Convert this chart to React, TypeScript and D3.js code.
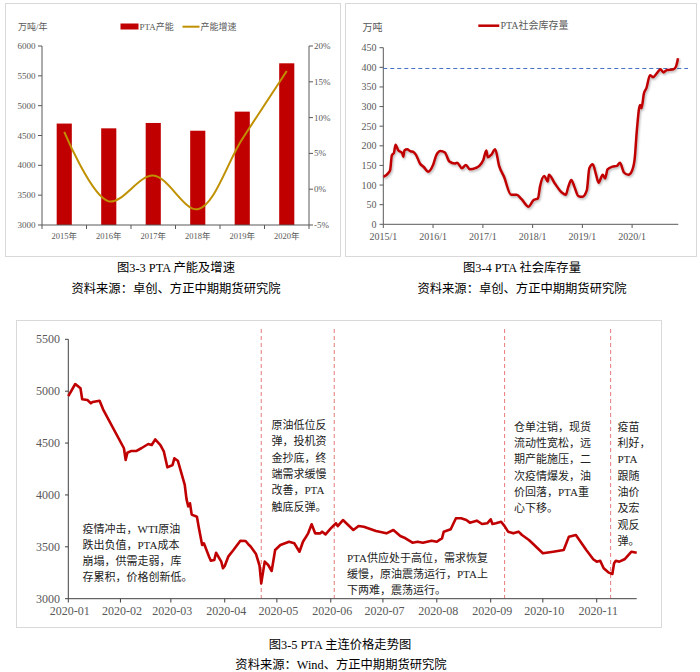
import React from 'react';
import * as d3 from 'd3';

// ---------- Chart 3-3: PTA capacity & growth ----------
const capYears = ['2015年', '2016年', '2017年', '2018年', '2019年', '2020年'];
const capacity = [4700, 4620, 4710, 4580, 4900, 5710];
const capGrowth = [8.0, -1.7, 1.9, -2.8, 7.0, 16.5];
const capLeftTicks = [3000, 3500, 4000, 4500, 5000, 5500, 6000];
const capRightTicks = [-5, 0, 5, 10, 15, 20];

// ---------- Chart 3-4: PTA social inventory ----------
const invDates = ['2015-01-02','2015-02-10','2015-02-20','2015-03-05','2015-03-20','2015-04-01','2015-04-20','2015-05-20','2015-05-28','2015-06-05','2015-06-25','2015-07-20','2015-08-07','2015-08-29','2015-09-27','2015-10-25','2015-11-26','2016-01-01','2016-01-26','2016-02-24','2016-03-28','2016-04-30','2016-06-09','2016-06-25','2016-07-31','2016-08-29','2016-09-27','2016-11-06','2016-12-05','2017-01-04','2017-01-26','2017-02-06','2017-03-03','2017-04-01','2017-04-30','2017-06-05','2017-07-27','2017-09-05','2017-10-12','2017-12-02','2018-01-08','2018-02-09','2018-02-24','2018-03-28','2018-04-22','2018-04-30','2018-06-13','2018-08-03','2018-09-01','2018-09-20','2018-10-12','2018-11-03','2018-12-02','2019-01-01','2019-02-03','2019-02-21','2019-03-18','2019-04-09','2019-04-30','2019-05-30','2019-06-17','2019-07-05','2019-08-10','2019-09-12','2019-10-04','2019-11-02','2019-12-05','2019-12-28','2020-01-19','2020-02-05','2020-02-28','2020-03-10','2020-03-28','2020-04-15','2020-05-11','2020-06-02','2020-07-01','2020-07-27','2020-08-18','2020-09-12','2020-10-31','2020-11-18','2020-12-03'];
const invValues = [121,132,138,176,182,203,189,181,172,188,191,186,185,177,155,146,134,151,177,187,183,160,155,157,143,151,140,143,149,164,188,171,177,191,149,121,75,75,64,45,62,66,96,123,109,126,104,81,75,96,113,96,72,70,87,143,153,130,106,126,117,140,147,149,157,132,126,134,164,240,304,296,334,347,380,375,385,395,387,393,395,402,423];
const invYearTicks = ['2015-01-01','2016-01-01','2017-01-01','2018-01-01','2019-01-01','2020-01-01'];
const invValueTicks = [0, 50, 100, 150, 200, 250, 300, 350, 400, 450];
const invWarning = 397;

// ---------- Chart 3-5: PTA main contract price ----------
const priceDates = ['2020-01-02','2020-01-06','2020-01-09','2020-01-10','2020-01-13','2020-01-15','2020-01-16','2020-01-20','2020-01-22','2020-02-03','2020-02-04','2020-02-05','2020-02-07','2020-02-10','2020-02-13','2020-02-17','2020-02-19','2020-02-21','2020-02-24','2020-02-26','2020-02-28','2020-03-02','2020-03-03','2020-03-05','2020-03-09','2020-03-10','2020-03-11','2020-03-12','2020-03-13','2020-03-16','2020-03-17','2020-03-19','2020-03-20','2020-03-23','2020-03-24','2020-03-26','2020-03-27','2020-03-30','2020-03-31','2020-04-01','2020-04-03','2020-04-06','2020-04-10','2020-04-13','2020-04-15','2020-04-16','2020-04-19','2020-04-21','2020-04-22','2020-04-24','2020-04-26','2020-04-28','2020-04-30','2020-05-03','2020-05-08','2020-05-11','2020-05-14','2020-05-16','2020-05-19','2020-05-21','2020-05-23','2020-05-26','2020-05-27','2020-05-29','2020-06-01','2020-06-04','2020-06-05','2020-06-08','2020-06-11','2020-06-14','2020-06-17','2020-06-20','2020-06-27','2020-07-03','2020-07-07','2020-07-11','2020-07-14','2020-07-18','2020-07-21','2020-07-24','2020-07-29','2020-08-01','2020-08-03','2020-08-04','2020-08-05','2020-08-09','2020-08-12','2020-08-15','2020-08-18','2020-08-20','2020-08-24','2020-08-27','2020-08-30','2020-09-01','2020-09-02','2020-09-04','2020-09-07','2020-09-09','2020-09-11','2020-09-14','2020-09-17','2020-09-19','2020-09-23','2020-09-25','2020-10-01','2020-10-07','2020-10-13','2020-10-16','2020-10-20','2020-10-22','2020-10-26','2020-10-30','2020-11-01','2020-11-03','2020-11-05','2020-11-08','2020-11-10','2020-11-11','2020-11-12','2020-11-14','2020-11-17','2020-11-21','2020-11-24'];
const priceValues = [4953,5069,5028,4922,4915,4883,4896,4908,4825,4450,4337,4407,4423,4423,4450,4491,4481,4536,4481,4417,4266,4289,4353,4330,4096,3960,3890,3920,3810,3790,3694,3518,3534,3405,3366,3373,3443,3357,3293,3315,3405,3469,3559,3556,3517,3501,3430,3320,3148,3357,3325,3267,3469,3517,3549,3534,3453,3549,3630,3717,3630,3630,3646,3620,3678,3727,3700,3758,3710,3662,3700,3694,3652,3630,3662,3604,3582,3540,3549,3540,3559,3549,3572,3582,3646,3669,3775,3775,3758,3733,3752,3720,3727,3765,3720,3727,3742,3700,3646,3630,3646,3614,3566,3534,3438,3453,3469,3598,3614,3566,3469,3380,3357,3366,3293,3251,3238,3341,3366,3357,3380,3453,3443];
const priceMonthTicks = ['2020-01-02','2020-02-01','2020-03-01','2020-04-01','2020-05-01','2020-06-01','2020-07-01','2020-08-01','2020-09-01','2020-10-01','2020-11-01'];
const priceValueTicks = [3000, 3500, 4000, 4500, 5000, 5500];
const eventDates = ['2020-04-22', '2020-06-03', '2020-09-09', '2020-11-09'];
const annotationTexts = [
  ['疫情冲击，WTI原油', '跌出负值，PTA成本', '崩塌，供需走弱，库', '存累积，价格创新低。'],
  ['原油低位反', '弹，投机资', '金抄底，终', '端需求缓慢', '改善，PTA', '触底反弹。'],
  ['PTA供应处于高位，需求恢复', '缓慢，原油震荡运行，PTA上', '下两难，震荡运行。'],
  ['仓单注销，现货', '流动性宽松，远', '期产能施压，二', '次疫情爆发，油', '价回落，PTA重', '心下移。'],
  ['疫苗', '利好，', 'PTA', '跟随', '油价', '及宏', '观反', '弹。'],
];

// layout (pixels) for annotation blocks: [left x, first line center y]
const annotationLayout = [[82.5, 528.5], [271.5, 425], [347, 557.5], [514, 426.7], [617.5, 426.7]];

const parse = d3.timeParse('%Y-%m-%d');
const SERIF = "'Liberation Serif', 'Times New Roman', serif";
const MIXED = "'Liberation Serif', 'Noto Sans CJK SC', serif";
const AXIS = '#595959';
const RED = '#C00000';

export default function App() {
  // ----- chart 3-3 -----
  const capX = d3.scaleBand<string>().domain(capYears).range([42, 309]).paddingInner(0.66).paddingOuter(0.33);
  const capY = d3.scaleLinear().domain([3000, 6000]).range([225, 46]);
  const capYR = d3.scaleLinear().domain([-5, 20]).range([225, 46]);
  const capStep = capX.step();
  const cx = (i: number) => (capX(capYears[i]) as number) + capX.bandwidth() / 2;
  const growthPath = d3.line<number>().x((_, i) => cx(i)).y((d) => capYR(d)).curve(d3.curveCatmullRom.alpha(0.5))(capGrowth) || '';

  // ----- chart 3-4 -----
  const invParsed = invDates.map((d) => parse(d) as Date);
  const invX = d3.scaleTime().domain([parse('2015-01-01') as Date, parse('2020-12-05') as Date]).range([383.3, 678.3]);
  const invY = d3.scaleLinear().domain([0, 450]).range([224.3, 47.7]);
  const invPath = d3.line<number>().x((_, i) => invX(invParsed[i])).y((d) => invY(d)).curve(d3.curveMonotoneX)(invValues) || '';
  const fmtInv = d3.timeFormat('%Y/%-m');

  // ----- chart 3-5 -----
  const priceParsed = priceDates.map((d) => parse(d) as Date);
  const pX = d3.scaleTime().domain([parse('2020-01-02') as Date, parse('2020-11-24') as Date]).range([68.3, 636.7]);
  const pY = d3.scaleLinear().domain([3000, 5500]).range([598.7, 339.3]);
  const pricePath = d3.line<number>().x((_, i) => pX(priceParsed[i])).y((d) => pY(d))(priceValues) || '';
  const fmtP = d3.timeFormat('%Y-%m');

  return (
    <div style={{ position: 'absolute', left: 0, top: 0, width: 700, height: 672, background: '#fff' }}>
      <svg width={700} height={672} viewBox="0 0 700 672" style={{ display: 'block' }}>
        <defs>
          <filter id="shadow" x="-5%" y="-5%" width="110%" height="120%">
            <feDropShadow dx="1" dy="1.5" stdDeviation="0.8" floodColor="#000" floodOpacity="0.3" />
          </filter>
        </defs>
        <rect width={700} height={672} fill="#fff" />

        {/* ========== Chart 3-3 ========== */}
        <rect x={5.5} y={3.5} width={335} height={253} fill="none" stroke="#D9D9D9" strokeWidth={1} />
        <text x={18} y={27} fontFamily={MIXED} fontSize={9} fill={AXIS} dominantBaseline="central">万吨/年</text>
        <rect x={120.5} y={23.5} width={18} height={6} fill={RED} />
        <text x={139.5} y={26.7} fontFamily={MIXED} fontSize={9} fill={AXIS} dominantBaseline="central">PTA产能</text>
        <line x1={182.5} x2={199.5} y1={26.7} y2={26.7} stroke="#C09000" strokeWidth={2} />
        <text x={200.5} y={26.7} fontFamily={MIXED} fontSize={9} fill={AXIS} dominantBaseline="central">产能增速</text>

        {capacity.map((v, i) => (
          <rect key={i} x={capX(capYears[i])} y={capY(v)} width={capX.bandwidth()} height={capY(3000) - capY(v)} fill={RED} />
        ))}
        <path d={growthPath} fill="none" stroke="#C09000" strokeWidth={2} />

        {/* left axis */}
        <line x1={42} x2={42} y1={46} y2={225} stroke={AXIS} strokeWidth={1} />
        {capLeftTicks.map((t) => (
          <g key={t}>
            <line x1={38} x2={42} y1={capY(t)} y2={capY(t)} stroke={AXIS} />
            <text x={35.5} y={capY(t)} textAnchor="end" dominantBaseline="central" fontFamily={SERIF} fontSize={9} fill={AXIS}>{t}</text>
          </g>
        ))}
        {/* right axis */}
        <line x1={309} x2={309} y1={46} y2={225} stroke={AXIS} strokeWidth={1} />
        {capRightTicks.map((t) => (
          <g key={t}>
            <line x1={309} x2={313} y1={capYR(t)} y2={capYR(t)} stroke={AXIS} />
            <text x={314} y={capYR(t)} dominantBaseline="central" fontFamily={SERIF} fontSize={9} fill={AXIS}>{`${t}%`}</text>
          </g>
        ))}
        {/* x axis */}
        <line x1={42} x2={309} y1={225} y2={225} stroke={AXIS} strokeWidth={1} />
        {d3.range(capYears.length + 1).map((i) => (
          <line key={i} x1={42 + i * capStep} x2={42 + i * capStep} y1={225} y2={229} stroke={AXIS} />
        ))}
        {capYears.map((y, i) => (
          <text key={y} x={cx(i)} y={236} textAnchor="middle" dominantBaseline="central" fontFamily={MIXED} fontSize={8.5} fill={AXIS}>{y}</text>
        ))}

        {/* ========== Chart 3-4 ========== */}
        <rect x={345.5} y={3.5} width={351} height={253} fill="none" stroke="#D9D9D9" strokeWidth={1} />
        <text x={362.5} y={27} fontFamily={MIXED} fontSize={10} fill={AXIS} dominantBaseline="central">万吨</text>
        <line x1={478.3} x2={499.3} y1={25.7} y2={25.7} stroke={RED} strokeWidth={2.5} />
        <text x={500.5} y={25.7} fontFamily={MIXED} fontSize={10} fill={AXIS} dominantBaseline="central">PTA社会库存量</text>

        <line x1={383.3} x2={383.3} y1={47.7} y2={224.3} stroke={AXIS} />
        {invValueTicks.map((t) => (
          <g key={t}>
            <line x1={379.5} x2={383.3} y1={invY(t)} y2={invY(t)} stroke={AXIS} />
            <text x={376.5} y={invY(t)} textAnchor="end" dominantBaseline="central" fontFamily={SERIF} fontSize={10} fill={AXIS}>{t}</text>
          </g>
        ))}
        <line x1={383.3} x2={678.3} y1={224.3} y2={224.3} stroke={AXIS} />
        {invYearTicks.map((d) => {
          const dt = parse(d) as Date;
          return (
            <g key={d}>
              <line x1={invX(dt)} x2={invX(dt)} y1={224.3} y2={228} stroke={AXIS} />
              <text x={invX(dt)} y={236.5} textAnchor="middle" dominantBaseline="central" fontFamily={SERIF} fontSize={10} fill={AXIS}>{fmtInv(dt)}</text>
            </g>
          );
        })}
        <line x1={383.3} x2={688} y1={invY(invWarning)} y2={invY(invWarning)} stroke="#4472C4" strokeWidth={1} strokeDasharray="4,3" />
        <path d={invPath} fill="none" stroke={RED} strokeWidth={2.5} strokeLinejoin="round" filter="url(#shadow)" />

        {/* captions */}
        <text x={176} y={268} textAnchor="middle" dominantBaseline="central" fontFamily={MIXED} fontSize={12.3} fill="#000">图3-3 PTA 产能及增速</text>
        <text x={176} y={289} textAnchor="middle" dominantBaseline="central" fontFamily={MIXED} fontSize={12.3} fill="#000">资料来源：卓创、方正中期期货研究院</text>
        <text x={522} y={268} textAnchor="middle" dominantBaseline="central" fontFamily={MIXED} fontSize={12.3} fill="#000">图3-4 PTA 社会库存量</text>
        <text x={522} y={289} textAnchor="middle" dominantBaseline="central" fontFamily={MIXED} fontSize={12.3} fill="#000">资料来源：卓创、方正中期期货研究院</text>

        {/* ========== Chart 3-5 ========== */}
        <rect x={16.5} y={320.5} width={645} height={307} fill="none" stroke="#D9D9D9" strokeWidth={1} />
        <line x1={68.3} x2={68.3} y1={339.3} y2={598.7} stroke="#404040" />
        {priceValueTicks.map((t) => (
          <g key={t}>
            <line x1={65} x2={68.3} y1={pY(t)} y2={pY(t)} stroke="#404040" />
            <text x={60} y={pY(t)} textAnchor="end" dominantBaseline="central" fontFamily={SERIF} fontSize={12} fill={AXIS}>{t}</text>
          </g>
        ))}
        <line x1={68.3} x2={636.7} y1={598.7} y2={598.7} stroke="#404040" />
        {priceMonthTicks.map((d) => {
          const dt = parse(d) as Date;
          return (
            <g key={d}>
              <line x1={pX(dt)} x2={pX(dt)} y1={598.7} y2={602.5} stroke="#404040" />
              <text x={pX(dt) + 1.5} y={611} textAnchor="middle" dominantBaseline="central" fontFamily={SERIF} fontSize={12} fill={AXIS}>{fmtP(dt)}</text>
            </g>
          );
        })}
        {eventDates.map((d) => {
          const dt = parse(d) as Date;
          return <line key={d} x1={pX(dt)} x2={pX(dt)} y1={329} y2={598} stroke="#E87A7A" strokeWidth={1} strokeDasharray="4,3" />;
        })}
        <path d={pricePath} fill="none" stroke={RED} strokeWidth={2.6} strokeLinejoin="round" />
        {annotationTexts.map((lines, k) => (
          <g key={k}>
            {lines.map((ln, j) => (
              <text key={j} x={annotationLayout[k][0]} y={annotationLayout[k][1] + j * 16.3} dominantBaseline="central" fontFamily={MIXED} fontSize={11} fill="#222">{ln}</text>
            ))}
          </g>
        ))}

        <text x={340} y={645} textAnchor="middle" dominantBaseline="central" fontFamily={MIXED} fontSize={12.3} fill="#000">图3-5 PTA 主连价格走势图</text>
        <text x={341} y={665} textAnchor="middle" dominantBaseline="central" fontFamily={MIXED} fontSize={12.3} fill="#000">资料来源：Wind、方正中期期货研究院</text>
      </svg>
    </div>
  );
}
